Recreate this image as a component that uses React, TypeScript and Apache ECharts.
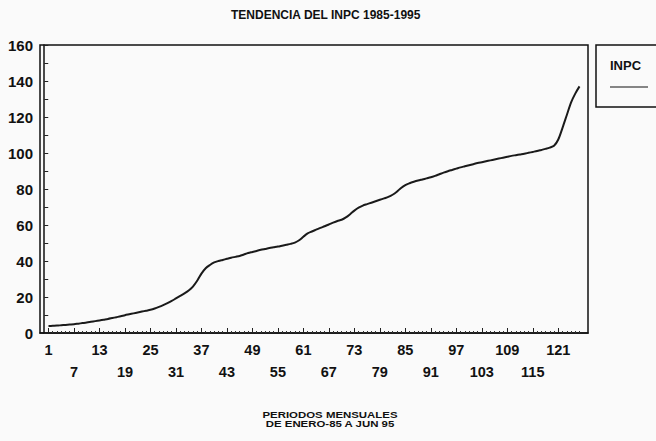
import React, { useEffect, useRef } from "react";
import * as echarts from "echarts";

const periods: number[] = Array.from({ length: 126 }, (_, i) => i + 1);

const inpc: number[] = [
  3.9, 4.0, 4.1, 4.3, 4.5, 4.7, 4.9, 5.2, 5.5, 5.8, 6.2, 6.6,
  7.0, 7.4, 7.8, 8.3, 8.8, 9.3, 9.9, 10.4, 10.9, 11.4, 11.9, 12.4,
  12.9, 13.6, 14.5, 15.5, 16.6, 17.8, 19.2, 20.6, 22.0, 23.6, 25.8, 29.0,
  33.0, 36.0, 37.8, 39.2, 40.0, 40.6, 41.2, 41.8, 42.3, 42.8, 43.6, 44.4,
  45.0, 45.6, 46.2, 46.7, 47.2, 47.6, 48.0, 48.5, 49.0, 49.5, 50.2, 51.5,
  53.5, 55.3, 56.4, 57.4, 58.4, 59.3, 60.3, 61.3, 62.2, 62.9, 64.2, 66.0,
  68.0, 69.6, 70.8, 71.6, 72.4, 73.2, 74.0, 74.8, 75.6, 76.8, 78.5, 80.6,
  82.2, 83.2, 84.0, 84.7, 85.3, 85.9, 86.5, 87.3, 88.2, 89.1, 89.9, 90.6,
  91.3, 92.0, 92.6, 93.2, 93.8, 94.4, 94.9, 95.4, 95.9, 96.4, 96.9, 97.4,
  97.9, 98.4, 98.8, 99.2, 99.6, 100.1, 100.6, 101.1, 101.7, 102.3, 103.0, 104.0,
  107.5, 114.0, 121.0, 128.0, 133.0, 137.0,
];

const xTickLabels: number[] = [1, 7, 13, 19, 25, 31, 37, 43, 49, 55, 61, 67, 73, 79, 85, 91, 97, 103, 109, 115, 121];

const titleText = "TENDENCIA DEL INPC 1985-1995";
const xAxisTitle = "PERIODOS MENSUALES\nDE ENERO-85 A JUN 95";
const seriesName = "INPC";

const FONT = "'Liberation Sans', Arial, sans-serif";

export default function App() {
  const ref = useRef<HTMLDivElement>(null);

  useEffect(() => {
    if (!ref.current) return;
    const chart = echarts.init(ref.current, null, { renderer: "svg" });
    const data = periods.map((p, i) => [p, inpc[i]]);
    chart.setOption({
      animation: false,
      backgroundColor: "#fafafa",
      grid: {
        left: 40,
        top: 45,
        width: 548,
        height: 288,
        show: true,
        borderColor: "#111",
        borderWidth: 1.5,
        backgroundColor: "transparent",
      },
      xAxis: [
        {
          type: "value",
          min: -1,
          max: 128,
          position: "bottom",
          axisLine: { show: true, lineStyle: { color: "#111", width: 1.5 } },
          axisTick: {
            show: true,
            inside: true,
            length: 2,
            customValues: periods,
            lineStyle: { color: "#333", width: 1 },
          },
          axisLabel: {
            show: true,
            customValues: xTickLabels,
            margin: 6,
            color: "#111",
            fontFamily: FONT,
            fontWeight: "bold",
            fontSize: 14.5,
            lineHeight: 22,
            formatter: (v: number) => ((v - 1) % 12 === 6 ? "\n" + v : String(v)),
          },
          splitLine: { show: false },
        },
        {
          type: "value",
          min: -1,
          max: 128,
          position: "bottom",
          axisLine: { show: false },
          axisTick: {
            show: true,
            inside: true,
            length: 5,
            customValues: xTickLabels,
            lineStyle: { color: "#222", width: 1 },
          },
          axisLabel: { show: false },
          splitLine: { show: false },
        },
      ],
      yAxis: {
        type: "value",
        min: 0,
        max: 160,
        interval: 20,
        axisLine: { show: true, lineStyle: { color: "#111", width: 1.5 } },
        axisTick: { show: true, inside: true, length: 4, lineStyle: { color: "#222" } },
        minorTick: { show: true, splitNumber: 2, length: 4, lineStyle: { color: "#222" } },
        axisLabel: {
          color: "#111",
          fontFamily: FONT,
          fontWeight: "bold",
          fontSize: 15,
          margin: 7,
        },
        splitLine: { show: false },
      },
      series: [
        {
          name: seriesName,
          type: "line",
          xAxisIndex: 0,
          data,
          showSymbol: false,
          smooth: 0.3,
          lineStyle: { color: "#1a1a1a", width: 2 },
        },
      ],
      graphic: [
        {
          type: "text",
          left: 326 - 95,
          top: 9,
          style: {
            text: titleText,
            fill: "#111",
            font: `bold 12px ${FONT}`,
          },
        },
        {
          type: "rect",
          shape: { x: 596, y: 45, width: 70, height: 62 },
          style: { fill: "none", stroke: "#111", lineWidth: 1.5 },
        },
        {
          type: "text",
          x: 610,
          y: 65,
          style: {
            text: seriesName,
            fill: "#111",
            font: `bold 13px ${FONT}`,
            verticalAlign: "middle",
          },
        },
        {
          type: "line",
          shape: { x1: 610, y1: 87, x2: 648, y2: 87 },
          style: { stroke: "#111", lineWidth: 1.2 },
        },
        {
          type: "text",
          x: 330,
          y: 410,
          scaleX: 1.27,
          style: {
            text: xAxisTitle,
            fill: "#111",
            font: `bold 9px ${FONT}`,
            lineHeight: 9,
            align: "center",
            verticalAlign: "top",
          },
        },
      ],
    });
    return () => chart.dispose();
  }, []);

  return (
    <div
      ref={ref}
      style={{ position: "fixed", left: 0, top: 0, width: 656, height: 441 }}
    />
  );
}
